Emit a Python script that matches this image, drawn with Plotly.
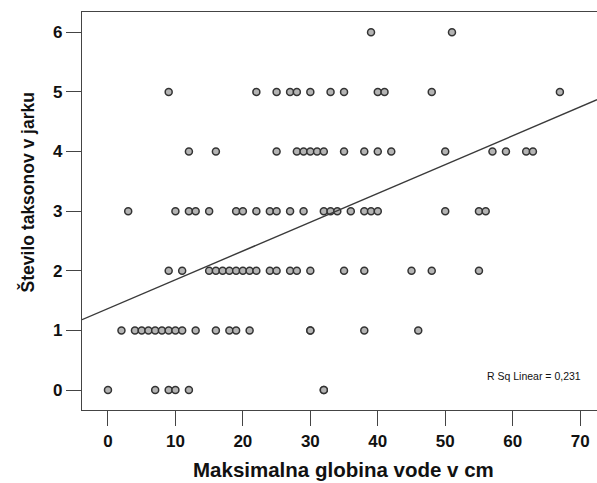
import numpy as np
import plotly.graph_objects as go

# Data (x = max water depth in cm, y = number of taxa)
y0_x = [0, 7, 9, 10, 12, 32, 32]
y1_x = [2, 4, 5, 6, 7, 8, 9, 10, 11, 13, 16, 18, 19, 21, 30, 30, 38, 46]
y2_x = [9, 11, 15, 16, 17, 18, 19, 20, 21, 22, 24, 25, 27, 28, 30, 35, 38, 45, 48, 55]
y3_x = [3, 10, 12, 13, 15, 19, 20, 22, 24, 25, 27, 29, 32, 33, 34, 36, 38, 39, 40, 50, 55, 56]
y4_x = [12, 16, 25, 28, 29, 30, 31, 32, 35, 38, 40, 42, 50, 57, 59, 62, 63]
y5_x = [9, 22, 25, 27, 28, 30, 33, 35, 40, 41, 48, 67]
y6_x = [39, 51]

groups = [y0_x, y1_x, y2_x, y3_x, y4_x, y5_x, y6_x]
x_vals = []
y_vals = []
for level, xs in enumerate(groups):
    x_vals += xs
    y_vals += [level] * len(xs)

x_ticks = [0, 10, 20, 30, 40, 50, 60, 70]
y_ticks = [0, 1, 2, 3, 4, 5, 6]
x_range = [-3.85, 72.5]
y_range = [-0.335, 6.34]
r2_label = "R Sq Linear = 0,231"
x_title = "Maksimalna globina vode v cm"
y_title = "Število taksonov v jarku"

x_arr = np.array(x_vals, dtype=float)
y_arr = np.array(y_vals, dtype=float)
slope, intercept = np.polyfit(x_arr, y_arr, 1)
fit_x = np.array(x_range)
fit_y = intercept + slope * fit_x

font_family = "Arial, Liberation Sans, sans-serif"
axis_col = "#444444"
text_col = "#111111"

fig = go.Figure()
fig.add_trace(go.Scatter(
    x=x_vals, y=y_vals, mode="markers",
    marker=dict(size=7, color="#b4b4b4", line=dict(color="#333333", width=1.5)),
    showlegend=False, hoverinfo="x+y",
))
fig.add_trace(go.Scatter(
    x=fit_x, y=fit_y, mode="lines",
    line=dict(color="#3a3a3a", width=1.4),
    showlegend=False, hoverinfo="skip",
))

fig.add_annotation(
    x=70.4, y=0.235, xref="x", yref="y", text=r2_label, showarrow=False,
    xanchor="right", yanchor="middle",
    font=dict(family=font_family, size=10.5, color=text_col),
)
# axis titles
fig.add_annotation(
    x=0.507, y=-0.150, xref="paper", yref="paper", text="<b>" + x_title + "</b>",
    showarrow=False, xanchor="center", yanchor="middle",
    font=dict(family=font_family, size=20.5, color=text_col),
)
fig.add_annotation(
    x=-0.105, y=0.5465, xref="paper", yref="paper", text="<b>" + y_title + "</b>",
    showarrow=False, xanchor="center", yanchor="middle", textangle=-90,
    font=dict(family=font_family, size=17.5, color=text_col),
)

fig.update_layout(
    width=597, height=483,
    margin=dict(l=82, r=0, t=12, b=73),
    paper_bgcolor="white", plot_bgcolor="white",
    font=dict(family=font_family, color=text_col),
    xaxis=dict(
        range=x_range, tickvals=x_ticks, ticktext=[str(v) for v in x_ticks],
        showgrid=False, zeroline=False,
        showline=True, linecolor=axis_col, linewidth=1.3, mirror=True,
        ticks="outside", ticklen=15, tickwidth=1.3, tickcolor=axis_col,
        tickfont=dict(family=font_family, size=17, color=text_col, weight="bold"),
    ),
    yaxis=dict(
        range=y_range, tickvals=y_ticks, ticktext=[str(v) for v in y_ticks],
        showgrid=False, zeroline=False,
        showline=True, linecolor=axis_col, linewidth=1.3, mirror=True,
        ticks="outside", ticklen=15, tickwidth=1.3, tickcolor=axis_col,
        tickfont=dict(family=font_family, size=17, color=text_col, weight="bold"),
    ),
)

fig.write_html("out.html")
